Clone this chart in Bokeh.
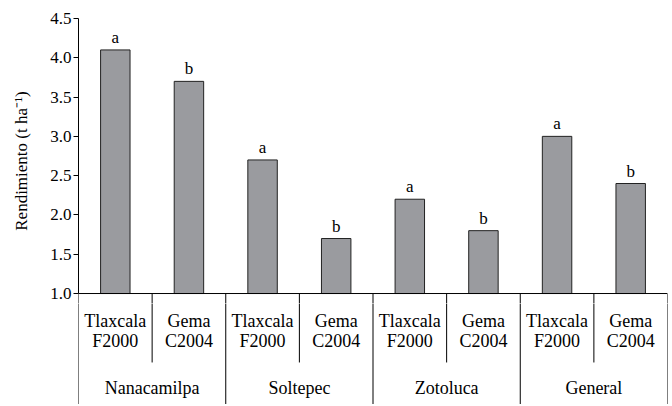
from bokeh.plotting import figure
from bokeh.layouts import column
from bokeh.models import Range1d, FixedTicker, NumeralTickFormatter, ColumnDataSource
from bokeh.core.properties import value
from bokeh.embed import file_html
from bokeh.resources import INLINE

# ---- data ----
sites = ["Nanacamilpa", "Soltepec", "Zotoluca", "General"]
varieties = ["Tlaxcala\nF2000", "Gema\nC2004"]
yields = [4.1, 3.7, 2.7, 1.7, 2.2, 1.8, 3.0, 2.4]
letters = ["a", "b", "a", "b", "a", "b", "a", "b"]
y_ticks = [1.0, 1.5, 2.0, 2.5, 3.0, 3.5, 4.0, 4.5]
y_title = "Rendimiento (t ha\u207b\u00b9)"

FONT = "Liberation Serif"
n = len(yields)
xs = [i + 0.5 for i in range(n)]
split = 0.873     # boundary between the two panels (data units)
bottom = -0.413

def base(height, y_range, top):
    f = figure(width=670, height=height, output_backend="svg", toolbar_location=None,
               x_range=Range1d(0, n), y_range=y_range,
               min_border_left=78, min_border_right=3, min_border_top=top, min_border_bottom=0)
    f.xaxis.visible = False
    f.grid.visible = False
    f.outline_line_color = None
    return f

# ---- main panel ----
p = base(303, Range1d(split, 4.5), 18)
ya = p.yaxis[0]
ya.bounds = (1.0, 4.5)
ya.ticker = FixedTicker(ticks=y_ticks)
ya.formatter = NumeralTickFormatter(format="0.0")
ya.minor_tick_line_color = None
ya.major_tick_out = 5
ya.major_tick_in = 0
ya.axis_line_color = "black"
ya.major_tick_line_color = "black"
ya.major_label_standoff = 2
ya.major_label_text_font = FONT
ya.major_label_text_font_size = "17px"
ya.major_label_text_color = "black"
ya.axis_label = y_title
ya.axis_label_text_font = FONT
ya.axis_label_text_font_style = "normal"
ya.axis_label_text_font_size = "17px"
ya.axis_label_text_color = "black"
ya.axis_label_standoff = 16

src = ColumnDataSource(dict(x=xs, y=yields, lab=letters))
p.vbar(x="x", top="y", bottom=1.0, width=0.4, source=src,
       fill_color="#9a9b9f", line_color="#222222", line_width=1)
p.text(x="x", y="y", text="lab", source=src, text_align="center", text_baseline="bottom",
       y_offset=-3, text_font=value(FONT), text_font_size="17px", text_color="black")

p.segment(x0=[0], y0=[1.0], x1=[n], y1=[1.0], line_color="black", line_width=1)
gx = [2 * i for i in range(len(sites) + 1)]
vx = [2 * i + 1 for i in range(len(sites))]
allx = sorted(gx + vx)
p.segment(x0=allx, y0=[1.0] * len(allx), x1=allx, y1=[split - 0.05] * len(allx),
          line_color="black", line_width=1)

# ---- category panel ----
q = base(101, Range1d(bottom, split), 0)
q.yaxis.visible = False
q.segment(x0=gx, y0=[split + 0.05] * len(gx), x1=gx, y1=[bottom] * len(gx),
          line_color="black", line_width=1)
q.segment(x0=vx, y0=[split + 0.05] * len(vx), x1=vx, y1=[0.122] * len(vx),
          line_color="black", line_width=1)

var_x, var_l1, var_l2 = [], [], []
for i in range(len(sites)):
    for j, v in enumerate(varieties):
        a, b = v.split("\n")
        var_x.append(2 * i + j + 0.5)
        var_l1.append(a)
        var_l2.append(b)
q.text(x=var_x, y=[0.656] * len(var_x), text=var_l1, text_align="center", text_baseline="middle",
       text_font=value(FONT), text_font_size="18px", text_color="black")
q.text(x=var_x, y=[0.40] * len(var_x), text=var_l2, text_align="center", text_baseline="middle",
       text_font=value(FONT), text_font_size="18px", text_color="black")
q.text(x=vx, y=[-0.197] * len(sites), text=sites,
       text_align="center", text_baseline="middle",
       text_font=value(FONT), text_font_size="18px", text_color="black")

layout = column(p, q, spacing=0)
open("out.html", "w").write(file_html(layout, INLINE))
